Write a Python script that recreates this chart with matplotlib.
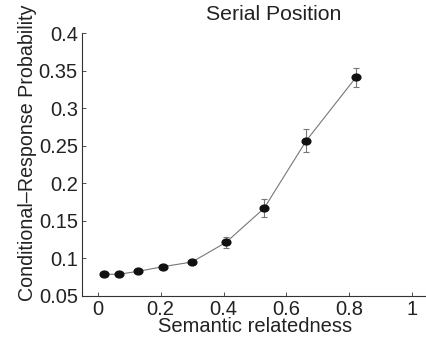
import matplotlib
matplotlib.use("Agg")
import matplotlib.pyplot as plt
from matplotlib.markers import MarkerStyle
from matplotlib.transforms import Affine2D

plt.rcParams['font.family'] = ['Liberation Sans', 'DejaVu Sans']

relatedness = [0.020, 0.067, 0.129, 0.207, 0.300, 0.408, 0.529, 0.663, 0.821]
crp = [0.0783, 0.0783, 0.0823, 0.0884, 0.0947, 0.1209, 0.1663, 0.2564, 0.3409]
crp_err = [0.002, 0.002, 0.002, 0.002, 0.003, 0.007, 0.012, 0.015, 0.013]
xticks = [0, 0.2, 0.4, 0.6, 0.8, 1]
xtick_labels = ['0', '0.2', '0.4', '0.6', '0.8', '1']
yticks = [0.05, 0.1, 0.15, 0.2, 0.25, 0.3, 0.35, 0.4]
ytick_labels = ['0.05', '0.1', '0.15', '0.2', '0.25', '0.3', '0.35', '0.4']

W, H = 427, 339
fig = plt.figure(figsize=(W / 100, H / 100), dpi=100)
ax = fig.add_axes([82 / W, (H - 295.5) / H, 346 / W, 262.5 / H])

ax.errorbar(relatedness, crp, yerr=crp_err, fmt='none', ecolor='#777777',
            elinewidth=0.8, capsize=2.5, capthick=0.8, zorder=2)
ax.plot(relatedness, crp, color='#777777', lw=0.8, zorder=3)
mk = MarkerStyle('o', transform=Affine2D().scale(1.0, 0.78))
ax.plot(relatedness, crp, linestyle='none', marker=mk, markersize=6.3,
        color='#111111', zorder=4)

ax.set_xlim(-0.05, 1.05)
ax.set_ylim(0.05, 0.4)
ax.set_xticks(xticks)
ax.set_xticklabels(xtick_labels)
ax.set_yticks(yticks)
ax.set_yticklabels(ytick_labels)
ax.spines['top'].set_visible(False)
ax.spines['right'].set_visible(False)
for s in ('left', 'bottom'):
    ax.spines[s].set_linewidth(0.8)
    ax.spines[s].set_color('#333333')
ax.tick_params(direction='in', length=3, width=0.6, labelsize=14.5,
               colors='#333333', labelcolor='#222222', pad=3)

ax.set_xlabel('Semantic relatedness', fontsize=14.5, color='#222222', labelpad=-1)
ax.set_ylabel('Conditional\u2013Response Probability', fontsize=14.1, color='#222222', labelpad=1)
ax.yaxis.label.set_y(0.543)
ax.set_title('Serial Position', fontsize=15.3, color='#222222', pad=9, x=0.553)

fig.savefig('out.png', dpi=100)
